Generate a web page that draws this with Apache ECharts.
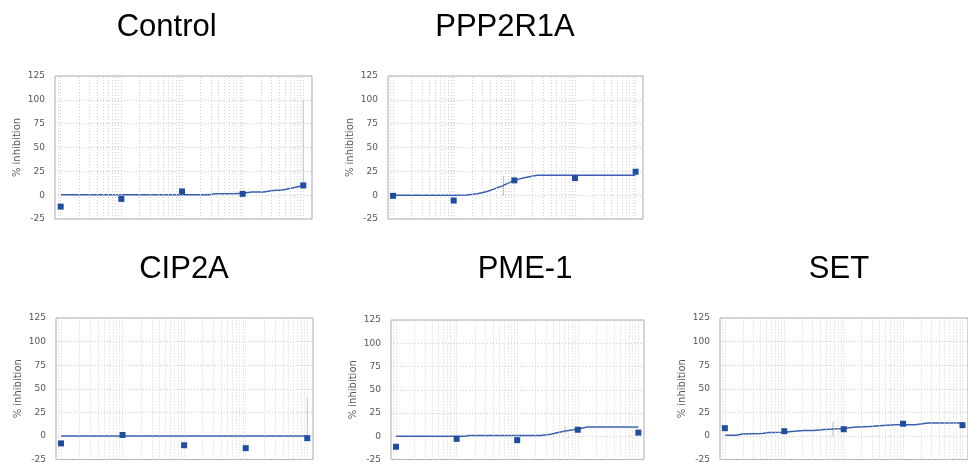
<!DOCTYPE html>
<html><head><meta charset="utf-8">
<script src="https://cdn.jsdelivr.net/npm/echarts@6/dist/echarts.min.js"></script>
<style>html,body{margin:0;padding:0;background:#fff}#c{width:968px;height:464px}</style>
</head><body><div id="c"></div><script>
// ---- data ----
const panelNames = ['Control', 'PPP2R1A', 'CIP2A', 'PME-1', 'SET'];
const concentrations = [1, 10, 100, 1000, 10000];
const yTicks = [-25, 0, 25, 50, 75, 100, 125];

const controlValues = [-12.0, -3.9, 3.9, 1.4, 10.2];
const ppp2r1aValues = [-0.7, -5.6, 15.5, 18.0, 24.6];
const cip2aValues = [-7.9, 1.0, -9.9, -13.0, -2.4];
const pme1Values = [-11.3, -2.8, -4.2, 7.0, 3.9];
const setValues = [8.2, 5.0, 7.1, 12.9, 11.4];

// fitted curves: log10(concentration) and % inhibition
const controlCurveLogX = [0, 1, 2, 2.45, 2.55, 2.85, 3.0, 3.15, 3.35, 3.5, 3.65, 3.8, 4.0];
const controlCurveY = [0.4, 0.4, 0.4, 0.5, 1.4, 1.5, 2.0, 3.2, 3.4, 5.0, 5.5, 7.3, 10.2];
const ppp2r1aCurveLogX = [0, 1, 1.22, 1.39, 1.55, 1.66, 1.82, 2.0, 2.16, 2.38, 4.0];
const ppp2r1aCurveY = [0, 0, 0.2, 1.4, 3.9, 6.3, 10.2, 15.5, 18.3, 20.8, 20.8];
const cip2aCurveLogX = [0, 1, 2, 3, 4];
const cip2aCurveY = [0, 0, 0, 0, 0];
const pme1CurveLogX = [0, 1, 1.15, 1.2, 2.39, 2.55, 2.77, 3.0, 3.16, 4.0];
const pme1CurveY = [0, 0, 0, 0.7, 0.7, 2.1, 5.3, 7.7, 9.9, 9.9];
const setCurveLogX = [0, 0.19, 0.3, 0.63, 0.74, 1.01, 1.12, 1.34, 1.5, 1.67, 2.0, 2.16, 2.44, 2.66, 2.88, 3.2, 3.42, 4.0];
const setCurveY = [0.7, 0.7, 2.1, 2.5, 3.6, 3.9, 4.6, 5.7, 5.7, 6.8, 7.9, 9.3, 10.0, 11.1, 11.8, 11.8, 13.6, 13.6];

// grey vertical markers (log10 x, top, bottom)
const markerLogX = [4, 1.82, 4, 2.79, 1.82];
const markerTop = [100, 20.4, 40.4, 10.6, 15.0];
const markerBottom = [10.2, -0.7, 0, 2.8, -0.7];

const allValues = [controlValues, ppp2r1aValues, cip2aValues, pme1Values, setValues];
const allCurveX = [controlCurveLogX, ppp2r1aCurveLogX, cip2aCurveLogX, pme1CurveLogX, setCurveLogX];
const allCurveY = [controlCurveY, ppp2r1aCurveY, cip2aCurveY, pme1CurveY, setCurveY];

// ---- layout ----
const layouts = [
  {left: 55, top: 76, width: 257, height: 143, xMinLog: -0.094, xMaxLog: 4.144, tx: 166.7, ty: 27},
  {left: 388, top: 76, width: 255, height: 143, xMinLog: -0.083, xMaxLog: 4.122, tx: 505, ty: 27},
  {left: 56, top: 318, width: 257, height: 145, xMinLog: -0.081, xMaxLog: 4.093, tx: 184, ty: 269},
  {left: 391, top: 320, width: 253, height: 143, xMinLog: -0.083, xMaxLog: 4.093, tx: 525, ty: 269},
  {left: 720, top: 318, width: 254, height: 142, xMinLog: -0.082, xMaxLog: 4.093, tx: 839, ty: 269}
];

const grids = [], xAxes = [], yAxes = [], series = [], graphics = [];
layouts.forEach((L, i) => {
  const xmin = Math.pow(10, L.xMinLog), xmax = Math.pow(10, L.xMaxLog);
  grids.push({left: L.left, top: L.top, width: L.width, height: L.height, show: true,
    borderColor: '#a9a9a9', borderWidth: 1, backgroundColor: 'transparent', containLabel: false});
  xAxes.push({type: 'log', logBase: 10, gridIndex: i, min: xmin, max: xmax,
    axisLine: {show: false}, axisTick: {show: false}, axisLabel: {show: false}, splitLine: {show: false}});
  yAxes.push({type: 'value', gridIndex: i, min: yTicks[0], max: yTicks[yTicks.length - 1], interval: 25,
    name: '% inhibition', nameLocation: 'middle', nameGap: 33,
    nameTextStyle: {fontFamily: 'DejaVu Sans', fontSize: 10, color: '#555'},
    axisLine: {show: false}, axisTick: {show: false},
    axisLabel: {fontFamily: 'DejaVu Sans', fontSize: 9, color: '#555', margin: 10},
    splitLine: {show: true, lineStyle: {type: [1, 2], color: '#cdcdcd', width: 1}}});
  // minor vertical grid lines at k*10^n
  const vlines = [];
  for (let n = -1; n <= 5; n++) {
    for (let k = 1; k <= 9; k++) {
      const v = k * Math.pow(10, n);
      if (v > xmin && v < xmax) vlines.push({xAxis: v});
    }
  }
  series.push({type: 'line', xAxisIndex: i, yAxisIndex: i, data: [], silent: true, z: 1,
    markLine: {silent: true, symbol: ['none', 'none'], animation: false, label: {show: false},
      lineStyle: {type: [1, 2], color: '#d2d2d2', width: 1}, data: vlines}});
  // grey marker
  const mx = Math.pow(10, markerLogX[i]);
  series.push({type: 'line', xAxisIndex: i, yAxisIndex: i, data: [[mx, markerTop[i]], [mx, markerBottom[i]]],
    showSymbol: false, lineStyle: {color: '#bdbdbd', width: 1}, silent: true, z: 2});
  // fitted curve
  series.push({type: 'line', xAxisIndex: i, yAxisIndex: i,
    data: allCurveX[i].map((lx, j) => [Math.pow(10, lx), allCurveY[i][j]]),
    showSymbol: false, lineStyle: {color: '#3a5fb0', width: 1.5}, silent: true, z: 3});
  // data points
  series.push({type: 'scatter', xAxisIndex: i, yAxisIndex: i,
    data: concentrations.map((c, j) => [c, allValues[i][j]]),
    symbol: 'rect', symbolSize: 6, itemStyle: {color: '#1f4e9f', opacity: 1}, silent: true, z: 10});
  graphics.push({type: 'text', x: L.tx, y: L.ty,
    style: {text: panelNames[i], font: '31px "Liberation Sans", Arial, sans-serif', fill: '#000',
      textAlign: 'center', textVerticalAlign: 'middle'}});
});

const chart = echarts.init(document.getElementById('c'), null, {renderer: 'canvas'});
chart.setOption({animation: false, backgroundColor: '#fff', grid: grids, xAxis: xAxes, yAxis: yAxes,
  series: series, graphic: graphics});
</script></body></html>
